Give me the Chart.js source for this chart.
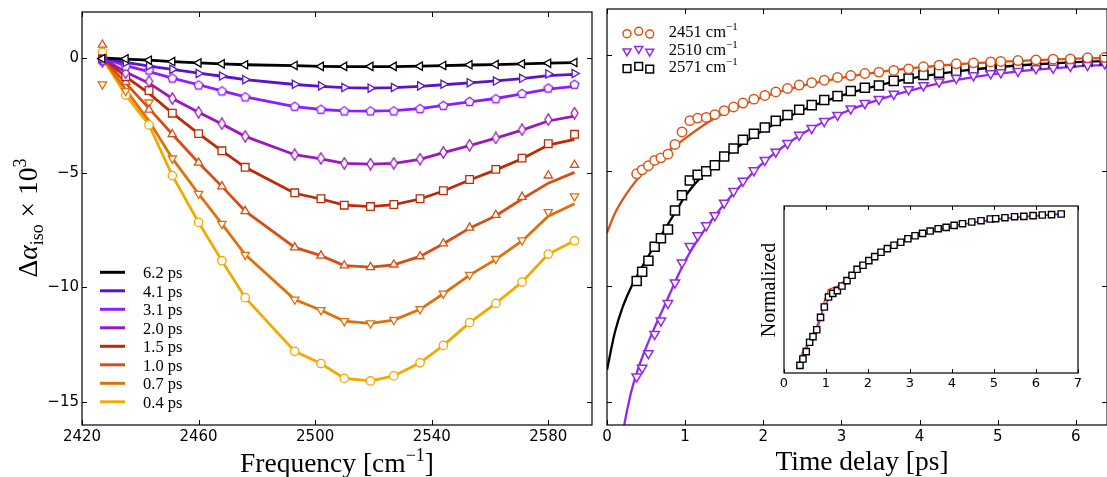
<!DOCTYPE html>
<html>
<head>
<meta charset="utf-8">
<script src="https://cdn.jsdelivr.net/npm/chart.js@4.4.1/dist/chart.umd.min.js"></script>
<style>
    html, body { margin: 0; padding: 0; background: #fff; overflow: hidden; }
    #wrap { position: relative; width: 1107px; height: 477px; overflow: hidden; }
    canvas { position: absolute; }
</style>
</head>
<body>
<div id="wrap">
    <canvas id="specChart" width="600" height="477" style="left:0;top:0"></canvas>
    <canvas id="kinChart" width="520" height="477" style="left:595px;top:0"></canvas>
    <canvas id="normChart" width="350" height="205" style="left:740px;top:195px"></canvas>
</div>
<script>
// ---- spectra (left) ----
const freq = [2427, 2435, 2443, 2451, 2460, 2468, 2476, 2493, 2502, 2510, 2519, 2527, 2536, 2544, 2553, 2562, 2571, 2580, 2589];
const freqTicks = [2420, 2460, 2500, 2540, 2580];
const valueTicks = [0, -5, -10, -15];
const delayLabels = ["6.2 ps", "4.1 ps", "3.1 ps", "2.0 ps", "1.5 ps", "1.0 ps", "0.7 ps", "0.4 ps"];

// measured points
const pts62 = [-0.03, -0.04, -0.10, -0.16, -0.22, -0.26, -0.30, -0.33, -0.37, -0.37, -0.37, -0.37, -0.36, -0.33, -0.30, -0.29, -0.26, -0.23, -0.20];
const pts41 = [-0.05, -0.20, -0.35, -0.50, -0.68, -0.79, -0.95, -1.15, -1.22, -1.29, -1.32, -1.29, -1.22, -1.15, -1.08, -1.01, -0.89, -0.70, -0.68];
const pts31 = [-0.10, -0.36, -0.53, -0.88, -1.18, -1.44, -1.70, -2.11, -2.24, -2.31, -2.31, -2.31, -2.21, -2.07, -1.90, -1.78, -1.55, -1.31, -1.15];
const pts20 = [-0.15, -0.65, -1.02, -1.77, -2.37, -2.87, -3.42, -4.22, -4.38, -4.60, -4.63, -4.60, -4.41, -4.12, -3.81, -3.49, -3.13, -2.69, -2.41];
const pts15 = [-0.05, -0.82, -1.42, -2.41, -3.30, -4.05, -4.77, -5.88, -6.14, -6.42, -6.48, -6.39, -6.14, -5.79, -5.30, -4.86, -4.37, -3.74, -3.33];
const pts10 = [0.57, -1.05, -2.26, -3.33, -4.57, -5.60, -6.68, -8.26, -8.62, -9.05, -9.12, -9.01, -8.65, -8.09, -7.40, -6.85, -6.06, -5.13, -4.67];
const pts07 = [-1.15, -1.44, -1.94, -4.38, -5.92, -7.23, -8.58, -10.53, -10.99, -11.47, -11.57, -11.42, -10.95, -10.27, -9.45, -8.76, -7.95, -6.72, -6.03];
const pts04 = [0.24, -1.62, -2.92, -5.13, -7.17, -8.84, -10.45, -12.79, -13.32, -13.97, -14.08, -13.86, -13.29, -12.53, -11.54, -10.70, -9.77, -8.55, -7.97];

// model curves
const line62 = [0, -0.05, -0.10, -0.16, -0.22, -0.26, -0.30, -0.34, -0.37, -0.38, -0.38, -0.38, -0.36, -0.34, -0.31, -0.29, -0.26, -0.23, -0.21];
const line41 = [0, -0.20, -0.36, -0.50, -0.66, -0.80, -0.95, -1.16, -1.24, -1.30, -1.32, -1.30, -1.24, -1.17, -1.09, -1.00, -0.90, -0.77, -0.72];
const line31 = [0, -0.34, -0.60, -0.88, -1.17, -1.44, -1.70, -2.12, -2.25, -2.31, -2.32, -2.30, -2.21, -2.07, -1.92, -1.77, -1.57, -1.36, -1.24];
const line20 = [0, -0.62, -1.10, -1.77, -2.37, -2.88, -3.42, -4.22, -4.40, -4.60, -4.63, -4.60, -4.42, -4.13, -3.82, -3.50, -3.15, -2.75, -2.54];
const line15 = [0, -0.82, -1.55, -2.41, -3.30, -4.05, -4.77, -5.90, -6.15, -6.42, -6.48, -6.40, -6.15, -5.80, -5.32, -4.88, -4.40, -3.80, -3.55];
const line10 = [0, -1.10, -2.20, -3.33, -4.57, -5.60, -6.68, -8.26, -8.62, -9.05, -9.12, -9.02, -8.65, -8.10, -7.42, -6.88, -6.15, -5.46, -4.99];
const line07 = [0, -1.38, -2.75, -4.38, -5.92, -7.23, -8.57, -10.53, -11.00, -11.47, -11.57, -11.43, -10.96, -10.28, -9.47, -8.78, -7.98, -6.90, -6.36];
const line04 = [0, -1.62, -2.92, -5.13, -7.17, -8.84, -10.45, -12.79, -13.32, -13.97, -14.08, -13.86, -13.29, -12.53, -11.54, -10.70, -9.77, -8.55, -7.97];

// ---- kinetics (right) ----
const tDelay = [0.38, 0.45, 0.53, 0.61, 0.69, 0.78, 0.87, 0.96, 1.06, 1.16, 1.27, 1.38, 1.50, 1.62, 1.74, 1.88, 2.02, 2.16, 2.31, 2.46,
                2.62, 2.78, 2.95, 3.12, 3.30, 3.48, 3.67, 3.86, 4.05, 4.25, 4.47, 4.69, 4.91, 5.04, 5.26, 5.49, 5.71, 5.93, 6.15, 6.37];
const timeTicks = [0, 1, 2, 3, 4, 5, 6];
const kinLabels = ["2451", "2510", "2571"];
const kin2451 = [-5.13, -4.96, -4.78, -4.55, -4.44, -4.28, -3.86, -3.32, -2.83, -2.72, -2.69, -2.57, -2.40, -2.24, -2.07, -1.90, -1.74, -1.59, -1.44, -1.29,
                 -1.19, -1.08, -0.96, -0.88, -0.79, -0.73, -0.66, -0.59, -0.50, -0.43, -0.37, -0.33, -0.29, -0.27, -0.23, -0.20, -0.17, -0.16, -0.11, -0.10];
const kin2510 = [-13.91, -13.53, -12.90, -12.07, -11.49, -10.73, -9.84, -8.98, -8.26, -7.80, -7.37, -6.93, -6.39, -5.88, -5.44, -4.99, -4.54, -4.18, -3.81, -3.45,
                 -3.16, -2.86, -2.59, -2.31, -2.08, -1.90, -1.68, -1.48, -1.31, -1.15, -0.99, -0.88, -0.79, -0.75, -0.69, -0.57, -0.55, -0.47, -0.43, -0.36];
const kin2571 = [-9.77, -9.37, -8.89, -8.29, -7.92, -7.54, -6.72, -6.06, -5.42, -5.17, -5.02, -4.76, -4.38, -4.04, -3.66, -3.40, -3.13, -2.84, -2.59, -2.36,
                 -2.16, -1.94, -1.77, -1.55, -1.41, -1.31, -1.11, -1.01, -0.86, -0.76, -0.68, -0.59, -0.52, -0.47, -0.43, -0.37, -0.33, -0.30, -0.26, -0.23];

// fitted decays
const fitT = [0, 0.1, 0.2, 0.3, 0.4, 0.5, 0.6, 0.7, 0.8, 0.9, 1.0, 1.25, 1.5, 1.75, 2.0, 2.5, 3.0, 3.5, 4.0, 4.5, 5.0, 5.5, 6.0, 6.4];
const fit2451 = [-7.68, -6.85, -6.25, -5.75, -5.32, -4.96, -4.64, -4.35, -4.10, -3.86, -3.60, -3.00, -2.50, -2.12, -1.80, -1.32, -0.98, -0.72, -0.53, -0.39, -0.29, -0.21, -0.15, -0.11];
const fit2510 = [-22.0, -18.8, -16.4, -14.7, -13.55, -12.65, -11.85, -11.10, -10.35, -9.60, -8.90, -7.55, -6.45, -5.50, -4.65, -3.40, -2.52, -1.90, -1.42, -1.06, -0.80, -0.62, -0.49, -0.42];
const fit2571 = [-13.62, -12.0, -10.9, -10.1, -9.45, -8.85, -8.30, -7.75, -7.20, -6.65, -6.10, -5.10, -4.40, -3.80, -3.25, -2.38, -1.75, -1.28, -0.94, -0.69, -0.51, -0.39, -0.30, -0.25];

// ---- inset, normalized ----
const tNorm = [0.38, 0.45, 0.53, 0.61, 0.69, 0.78, 0.87, 0.96, 1.06, 1.16, 1.27, 1.38, 1.50, 1.62, 1.74, 1.88, 2.02, 2.16, 2.31, 2.46,
               2.62, 2.78, 2.95, 3.12, 3.30, 3.48, 3.67, 3.86, 4.05, 4.25, 4.47, 4.69, 4.91, 5.04, 5.26, 5.49, 5.71, 5.93, 6.15, 6.37, 6.60];
const normTicks = [0, 1, 2, 3, 4, 5, 6, 7];
const norm2571 = [0.046, 0.084, 0.128, 0.184, 0.218, 0.259, 0.333, 0.395, 0.455, 0.477, 0.493, 0.521, 0.553, 0.585, 0.621, 0.645, 0.673, 0.697, 0.723, 0.745,
                  0.765, 0.783, 0.804, 0.822, 0.836, 0.850, 0.864, 0.872, 0.884, 0.894, 0.904, 0.912, 0.922, 0.924, 0.930, 0.936, 0.938, 0.942, 0.946, 0.948, 0.952];
const norm2451 = [0.09, 0.13, 0.16, 0.19, 0.21, 0.24, 0.33, 0.43, 0.50, 0.51, 0.52, 0.54, 0.565, 0.59, 0.62, 0.645, 0.67, 0.695, 0.72, 0.745,
                  0.76, 0.78, 0.80, 0.815, 0.83, 0.84, 0.855, 0.865, 0.88, 0.89, 0.90, 0.905, 0.915, 0.92, 0.925, 0.93, 0.935, 0.94, 0.945, 0.95, 0.955];
const norm2510 = [0.07, 0.10, 0.14, 0.19, 0.23, 0.28, 0.34, 0.40, 0.44, 0.47, 0.49, 0.52, 0.555, 0.585, 0.615, 0.645, 0.675, 0.70, 0.725, 0.745,
                  0.765, 0.785, 0.80, 0.82, 0.835, 0.845, 0.86, 0.87, 0.88, 0.89, 0.90, 0.91, 0.915, 0.92, 0.925, 0.93, 0.935, 0.94, 0.943, 0.946, 0.95];

const delayColors = ["#000000", "#5b14c8", "#8c1eff", "#9a18bc", "#be2a06", "#d64f16", "#e0700a", "#f2a900"];
const orange = "#d9561a", violet = "#9428e8";
const serif = '"Liberation Serif", "DejaVu Serif", serif';
const sans = '"DejaVu Sans", sans-serif';

function xy(xs, ys) {
    return xs.map((x, i) => ({ x: x, y: ys[i] }));
}

function minusLabel(v) {
    return v < 0 ? "\u2212" + Math.abs(v) : String(v);
}

// little canvases for marker shapes Chart.js does not have
function pentagonMarker(color) {
    let c = document.createElement("canvas");
    c.width = c.height = 13;
    let g = c.getContext("2d");
    g.beginPath();
    for (let k = 0; k < 5; k++) {
        let a = -Math.PI / 2 + k * 2 * Math.PI / 5;
        let px = 6.5 + 4.6 * Math.cos(a), py = 6.8 + 4.6 * Math.sin(a);
        k == 0 ? g.moveTo(px, py) : g.lineTo(px, py);
    }
    g.closePath();
    g.fillStyle = "#fff";
    g.fill();
    g.lineWidth = 1.3;
    g.strokeStyle = color;
    g.stroke();
    return c;
}

function thinDiamondMarker(color) {
    let c = document.createElement("canvas");
    c.width = 9;
    c.height = 13;
    let g = c.getContext("2d");
    g.beginPath();
    g.moveTo(4.5, 0.8);
    g.lineTo(8, 6.5);
    g.lineTo(4.5, 12.2);
    g.lineTo(1, 6.5);
    g.closePath();
    g.fillStyle = "#fff";
    g.fill();
    g.lineWidth = 1.3;
    g.strokeStyle = color;
    g.stroke();
    return c;
}

function drawRuns(ctx, runs, x, y) {
    runs.forEach(r => {
        ctx.font = r.font;
        ctx.fillText(r.text, x, y + (r.dy || 0));
        x += ctx.measureText(r.text).width;
    });
}

function runsWidth(ctx, runs) {
    let w = 0;
    runs.forEach(r => {
        ctx.font = r.font;
        w += ctx.measureText(r.text).width;
    });
    return w;
}

// box plus inward ticks on all four sides
function frameTicks(xTicks, yTicks, len) {
    return {
        id: "frameTicks",
        afterDatasetsDraw(chart) {
            const { ctx, chartArea: a, scales } = chart;
            ctx.save();
            ctx.strokeStyle = "#000";
            ctx.lineWidth = 1;
            ctx.beginPath();
            xTicks.forEach(v => {
                let px = Math.round(scales.x.getPixelForValue(v)) + 0.5;
                ctx.moveTo(px, a.top);
                ctx.lineTo(px, a.top + len);
                ctx.moveTo(px, a.bottom);
                ctx.lineTo(px, a.bottom - len);
            });
            yTicks.forEach(v => {
                let py = Math.round(scales.y.getPixelForValue(v)) + 0.5;
                ctx.moveTo(a.left, py);
                ctx.lineTo(a.left + len, py);
                ctx.moveTo(a.right, py);
                ctx.lineTo(a.right - len, py);
            });
            ctx.stroke();
            ctx.lineWidth = 1.2;
            ctx.strokeRect(a.left, a.top, a.right - a.left, a.bottom - a.top);
            ctx.restore();
        }
    };
}

function linearAxis(min, max, ticks, opts) {
    return Object.assign({
        type: "linear",
        min: min,
        max: max,
        grid: { display: false, drawTicks: false },
        border: { display: false },
        afterBuildTicks: s => { s.ticks = ticks.map(v => ({ value: v })); },
        ticks: {
            autoSkip: false,
            maxRotation: 0,
            color: "#000",
            font: { family: sans, size: 15 },
            callback: v => minusLabel(v)
        }
    }, opts);
}

// ---------- left: spectra ----------
const specPts = [pts62, pts41, pts31, pts20, pts15, pts10, pts07, pts04];
const specLines = [line62, line41, line31, line20, line15, line10, line07, line04];
const specStyles = [
    { pointStyle: "triangle", rotation: 270, r: 4.8 },
    { pointStyle: "triangle", rotation: 90, r: 4.8 },
    { pointStyle: pentagonMarker(delayColors[2]), rotation: 0, r: 5 },
    { pointStyle: thinDiamondMarker(delayColors[3]), rotation: 0, r: 5 },
    { pointStyle: "rect", rotation: 0, r: 5.4 },
    { pointStyle: "triangle", rotation: 0, r: 4.8 },
    { pointStyle: "triangle", rotation: 180, r: 4.8 },
    { pointStyle: "circle", rotation: 0, r: 4.2 }
];

let specSets = [];
specPts.forEach((p, i) => {
    specSets.push({
        data: xy(freq, p),
        showLine: false,
        pointStyle: specStyles[i].pointStyle,
        pointRotation: specStyles[i].rotation,
        pointRadius: specStyles[i].r,
        pointBorderWidth: 1.3,
        pointBorderColor: delayColors[i],
        pointBackgroundColor: "#fff"
    });
});
specLines.forEach((l, i) => {
    specSets.push({
        data: xy(freq, l),
        borderColor: delayColors[i],
        borderWidth: 2.8,
        pointRadius: 0,
        tension: 0
    });
});

const specText = {
    id: "specText",
    afterDraw(chart) {
        const ctx = chart.ctx;
        const a = chart.chartArea;
        ctx.save();
        ctx.fillStyle = "#000";
        ctx.textAlign = "left";
        ctx.textBaseline = "alphabetic";

        // x title
        let runs = [
            { text: "Frequency [cm", font: "27.5px " + serif },
            { text: "\u22121", font: "18px " + serif, dy: -11 },
            { text: "]", font: "27.5px " + serif }
        ];
        drawRuns(ctx, runs, (a.left + a.right) / 2 - runsWidth(ctx, runs) / 2, 472);

        // legend, lines only
        delayLabels.forEach((lab, i) => {
            let y = 272.3 + i * 18.5;
            ctx.strokeStyle = delayColors[i];
            ctx.lineWidth = 3;
            ctx.beginPath();
            ctx.moveTo(100, y);
            ctx.lineTo(125, y);
            ctx.stroke();
            ctx.font = "16.5px " + serif;
            ctx.fillText(lab, 143, y + 6);
        });

        // y title, rotated
        ctx.translate(37, 218);
        ctx.rotate(-Math.PI / 2);
        runs = [
            { text: "\u0394", font: "27.5px " + serif },
            { text: "\u03b1", font: "italic 27.5px " + serif },
            { text: "iso", font: "18px " + serif, dy: 6 },
            { text: " \u00d7 10", font: "27.5px " + serif },
            { text: "3", font: "18px " + serif, dy: -11 }
        ];
        drawRuns(ctx, runs, -runsWidth(ctx, runs) / 2, 0);
        ctx.restore();
    }
};

new Chart(document.getElementById("specChart"), {
    type: "line",
    data: { datasets: specSets },
    options: {
        responsive: false,
        animation: false,
        layout: { padding: { top: 9, right: 8, left: 0, bottom: 0 } },
        plugins: { legend: { display: false }, tooltip: { enabled: false } },
        scales: {
            x: linearAxis(2420, 2595, freqTicks, { afterFit: s => { s.height = 52; } }),
            y: linearAxis(-16, 2, valueTicks, { afterFit: s => { s.width = 82; } })
        }
    },
    plugins: [frameTicks(freqTicks, valueTicks, 5), specText]
});

// ---------- right: kinetics at three frequencies ----------
const kinPts = [kin2451, kin2510, kin2571];
const kinFits = [fit2451, fit2510, fit2571];
const kinColors = [orange, violet, "#000000"];
const kinStyles = [
    { pointStyle: "circle", rotation: 0, r: 4.7 },
    { pointStyle: "triangle", rotation: 180, r: 5.4 },
    { pointStyle: "rect", rotation: 0, r: 6.4 }
];

let kinSets = [];
kinPts.forEach((p, i) => {
    kinSets.push({
        data: xy(tDelay, p),
        showLine: false,
        pointStyle: kinStyles[i].pointStyle,
        pointRotation: kinStyles[i].rotation,
        pointRadius: kinStyles[i].r,
        pointBorderWidth: 1.5,
        pointBorderColor: kinColors[i],
        pointBackgroundColor: "#fff"
    });
});
kinFits.forEach((f, i) => {
    kinSets.push({
        data: xy(fitT, f),
        borderColor: kinColors[i],
        borderWidth: 2.3,
        pointRadius: 0,
        cubicInterpolationMode: "monotone"
    });
});

const kinText = {
    id: "kinText",
    afterDraw(chart) {
        const ctx = chart.ctx;
        const a = chart.chartArea;
        ctx.save();
        ctx.fillStyle = "#000";
        ctx.textAlign = "left";
        ctx.textBaseline = "alphabetic";

        let runs = [{ text: "Time delay [ps]", font: "27.5px " + serif }];
        drawRuns(ctx, runs, 862 - 595 - runsWidth(ctx, runs) / 2, 470);

        // legend: three markers per row, middle one raised a bit
        ctx.translate(-595, 0);
        const yOff = [1.2, -1.2, 1.6];
        kinLabels.forEach((lab, i) => {
            let y = 32.5 + i * 17.5;
            [627, 638.7, 649.7].forEach((x, k) => {
                ctx.fillStyle = "#fff";
                ctx.strokeStyle = kinColors[i];
                ctx.lineWidth = 1.5;
                Chart.helpers.drawPoint(ctx, {
                    pointStyle: kinStyles[i].pointStyle,
                    rotation: kinStyles[i].rotation,
                    radius: kinStyles[i].r * 0.85,
                    borderWidth: 1.5
                }, x, y + yOff[k]);
            });
            ctx.fillStyle = "#000";
            drawRuns(ctx, [
                { text: lab + " cm", font: "16.5px " + serif },
                { text: "\u22121", font: "11px " + serif, dy: -7 }
            ], 668.7, y + 4.5);
        });
        ctx.restore();
    }
};

new Chart(document.getElementById("kinChart"), {
    type: "line",
    data: { datasets: kinSets },
    options: {
        responsive: false,
        animation: false,
        layout: { padding: { top: 9, right: 4.5, left: 0, bottom: 0 } },
        plugins: { legend: { display: false }, tooltip: { enabled: false } },
        scales: {
            x: linearAxis(0, 6.4, timeTicks, { afterFit: s => { s.height = 52; } }),
            y: linearAxis(-16, 2, valueTicks, {
                afterFit: s => { s.width = 12; },
                ticks: { display: false }
            })
        }
    },
    plugins: [frameTicks(timeTicks, valueTicks, 5), kinText]
});

// ---------- inset: normalized kinetics ----------
const normText = {
    id: "normText",
    beforeDatasetsDraw(chart) {
        const a = chart.chartArea;
        chart.ctx.save();
        chart.ctx.fillStyle = "#fff";
        chart.ctx.fillRect(a.left, a.top, a.right - a.left, a.bottom - a.top);
        chart.ctx.restore();
    },
    afterDraw(chart) {
        const ctx = chart.ctx;
        ctx.save();
        ctx.fillStyle = "#000";
        ctx.textAlign = "center";
        ctx.textBaseline = "alphabetic";
        ctx.translate(35, 95);
        ctx.rotate(-Math.PI / 2);
        ctx.font = "20px " + serif;
        ctx.fillText("Normalized", 0, 0);
        ctx.restore();
    }
};

new Chart(document.getElementById("normChart"), {
    type: "line",
    data: {
        datasets: [
            {
                data: xy(tNorm, norm2571),
                showLine: false,
                pointStyle: "rect",
                pointRadius: 4.4,
                pointBorderWidth: 1.4,
                pointBorderColor: "#000",
                pointBackgroundColor: "#fff"
            },
            { data: xy(tNorm, norm2510), borderColor: violet, borderWidth: 1.5, pointRadius: 0, tension: 0 },
            { data: xy(tNorm, norm2451), borderColor: orange, borderWidth: 1.5, pointRadius: 0, tension: 0 }
        ]
    },
    options: {
        responsive: false,
        animation: false,
        layout: { padding: { top: 11, right: 12, left: 0, bottom: 0 } },
        plugins: { legend: { display: false }, tooltip: { enabled: false } },
        scales: {
            x: linearAxis(0, 7, normTicks, {
                afterFit: s => { s.height = 27; },
                ticks: { autoSkip: false, maxRotation: 0, color: "#000", padding: 3, font: { family: sans, size: 13 } }
            }),
            y: linearAxis(0, 1, [], {
                afterFit: s => { s.width = 44; },
                ticks: { display: false }
            })
        }
    },
    plugins: [frameTicks(normTicks, [], 4), normText]
});
</script>
</body>
</html>
